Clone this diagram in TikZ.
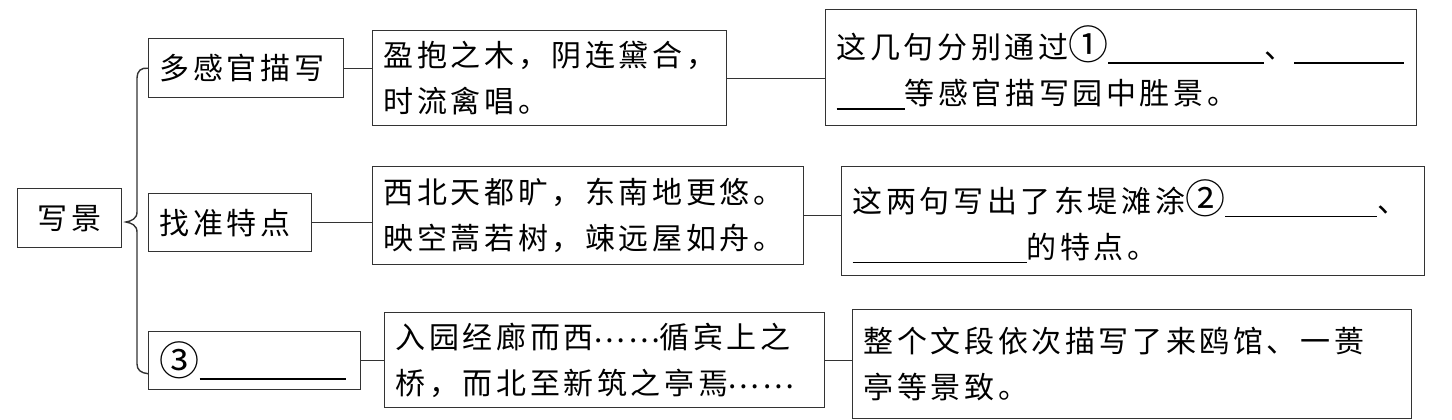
\documentclass[tikz,border=0pt]{standalone}
\usepackage{fontspec}
\usepackage{tikz}
\usetikzlibrary{calc,positioning}
\newfontfamily\cn{Noto Sans CJK SC}[LetterSpace=12]
\colorlet{kuangline}{black!80}
\newcommand{\kong}[1]{\rule[-2.5pt]{#1}{0.6pt}}
\newcommand{\quan}[1]{{\fontsize{20pt}{23pt}\selectfont\raisebox{-0.5pt}{#1}}}
\newcommand{\dian}{\makebox[33pt][c]{\raisebox{3pt}{……}}}
\tikzset{kuang/.style={draw=kuangline,line width=0.7pt,anchor=north west,inner xsep=5.5pt,inner ysep=0pt,align=left,font=\cn\fontsize{15pt}{23pt}\selectfont}}

\begin{document}
\begin{tikzpicture}[x=0.5pt,y=-0.5pt,line width=0.7pt]
\useasboundingbox (0,0) rectangle (1452,419);
% left column
\node[kuang,align=center,text width=41pt,minimum height=29.5pt] (xj) at (17,188) {写景};
\node[kuang,text width=86.5pt,minimum height=29.5pt] (dg) at (148,38) {多感官描写};
\node[kuang,text width=70.5pt,minimum height=29pt] (zz) at (148,193) {找准特点};
\node[kuang,text width=95pt,minimum height=29pt] (b3) at (148,331) {\quan{③}\kong{73pt}};
% middle column
\node[kuang,text width=166pt,minimum height=47.5pt] (yb) at (372,30) {盈抱之木，阴连黛合，\\时流禽唱。};
\node[kuang,text width=204.5pt,minimum height=49pt] (xb) at (372,166) {西北天都旷，东南地更悠。\\映空蒿若树，竦远屋如舟。};
\node[kuang,text width=209pt,minimum height=47.5pt] (ry) at (384,312) {入园经廊而西\dian 循宾上之\\桥，而北至新筑之亭焉\dian};
% right column
\node[kuang,text width=284.5pt,minimum height=58pt] (zj) at (825,9) {这几句分别通过\quan{①}\kong{78pt}、\kong{55pt}\\\kong{34pt}等感官描写园中胜景。};
\node[kuang,text width=280.5pt,minimum height=54.5pt] (zl) at (841,166) {这两句写出了东堤滩涂\quan{②}\kong{76pt}、\\\kong{87pt}的特点。};
\node[kuang,text width=268.5pt,minimum height=54.5pt] (zg) at (852,309) {整个文段依次描写了来鸥馆、一蒉\\亭等景致。};
% brace
\draw[kuangline] (dg.west) .. controls (141,67.5) and (137,71) .. (137,78) -- (137,212)
  .. controls (137,219) and (131,221) .. (126,222) .. controls (131,223) and (137,225) .. (137,232)
  -- (137,364) .. controls (137,370) and (141,373) .. ($(b3.west)+(0,13)$);
% links
\foreach \a/\b in {dg/yb,zz/xb,b3/ry,yb/zj,xb/zl,ry/zg}
  \draw[kuangline] (\a.east) -- (\a.east -| \b.west);
\end{tikzpicture}
\end{document}
